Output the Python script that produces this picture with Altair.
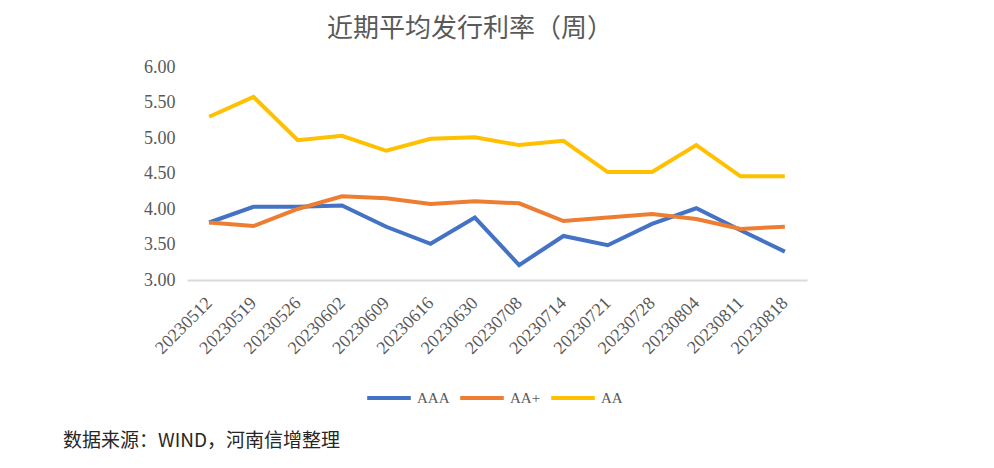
import altair as alt
import pandas as pd

dates = ["20230512", "20230519", "20230526", "20230602", "20230609", "20230616", "20230630",
         "20230708", "20230714", "20230721", "20230728", "20230804", "20230811", "20230818"]
aaa = [3.81, 4.03, 4.03, 4.05, 3.75, 3.51, 3.88, 3.21, 3.62, 3.49, 3.79, 4.01, 3.70, 3.40]
aa_plus = [3.81, 3.76, 4.00, 4.18, 4.15, 4.07, 4.11, 4.08, 3.83, 3.88, 3.93, 3.86, 3.72, 3.75]
aa = [5.30, 5.58, 4.97, 5.03, 4.82, 4.99, 5.01, 4.90, 4.96, 4.52, 4.52, 4.90, 4.46, 4.46]
series_names = ["AAA", "AA+", "AA"]
series_colors = ["#4472C4", "#ED7D31", "#FFC000"]
y_ticks = [3.0, 3.5, 4.0, 4.5, 5.0, 5.5, 6.0]
title_text = "近期平均发行利率（周）"
source_text = "数据来源：WIND，河南信增整理"

rows = []
for name, vals in zip(series_names, [aaa, aa_plus, aa]):
    for d, v in zip(dates, vals):
        rows.append({"date": d, "series": name, "value": v})
df = pd.DataFrame(rows)

lines = alt.Chart(df).mark_line(strokeWidth=4).encode(
    x=alt.X("date:O", sort=dates, scale=alt.Scale(type="point", padding=0.5),
            axis=alt.Axis(title=None, labelAngle=-45, labelAlign="right", labelBaseline="middle",
                          ticks=False, grid=False, domainColor="#D9D9D9", domainWidth=2,
                          labelFont="Liberation Serif", labelFontSize=18, labelColor="#595959",
                          labelPadding=20)),
    y=alt.Y("value:Q", scale=alt.Scale(domain=[3, 6], nice=False, zero=False),
            axis=alt.Axis(title=None, values=y_ticks, format=".2f", domain=False, ticks=False,
                          grid=False, labelFont="Liberation Serif", labelFontSize=18,
                          labelColor="#595959", labelPadding=12)),
    color=alt.Color("series:N", scale=alt.Scale(domain=series_names, range=series_colors),
                    legend=alt.Legend(title=None, orient="none", legendX=178, legendY=307,
                                      direction="horizontal", symbolType="stroke",
                                      symbolSize=1900, symbolStrokeWidth=4,
                                      labelFont="Liberation Serif", labelFontSize=15,
                                      labelColor="#595959", columnPadding=2, labelOffset=4)),
)

src = alt.Chart(pd.DataFrame({"t": [source_text]})).mark_text(
    align="left", baseline="middle", font="Noto Sans CJK SC", fontSize=19, color="#262626"
).encode(text="t:N", x=alt.value(-124), y=alt.value(374))

chart = alt.layer(lines, src).properties(
    width=620, height=213,
    autosize="none",
    padding={"left": 179, "top": 59, "right": 170, "bottom": 175},
    title=alt.TitleParams(title_text, font="Noto Sans CJK SC", fontSize=26, color="#595959",
                          fontWeight="normal", anchor="middle", dx=-27, offset=16),
).configure_view(stroke=None)

chart.save("out.html", embed_options={"renderer": "svg", "actions": False})
